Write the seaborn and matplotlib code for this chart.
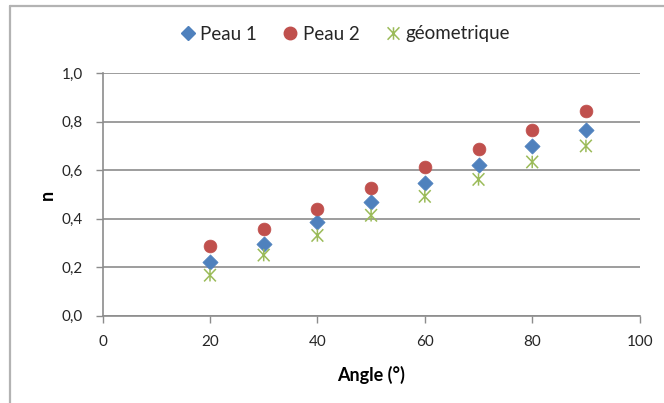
import matplotlib
matplotlib.use("Agg")
import matplotlib.pyplot as plt
from matplotlib.lines import Line2D
from matplotlib.path import Path
import seaborn as sns
import pandas as pd

angles = [20, 30, 40, 50, 60, 70, 80, 90]
peau1 = [0.220, 0.297, 0.385, 0.469, 0.546, 0.623, 0.700, 0.766]
peau2 = [0.287, 0.359, 0.441, 0.528, 0.612, 0.689, 0.766, 0.844]
geometrique = [0.167, 0.250, 0.331, 0.414, 0.492, 0.562, 0.634, 0.700]

series_names = ["Peau 1", "Peau 2", "géometrique"]
x_ticks = [0, 20, 40, 60, 80, 100]
y_ticks = [0.0, 0.2, 0.4, 0.6, 0.8, 1.0]

sns.set_theme(style="white")
plt.rcParams["font.family"] = ["Lato", "DejaVu Sans"]

fig = plt.figure(figsize=(6.64, 4.03), dpi=100)
ax = fig.add_axes([0.1545, 0.2166, 0.9633 - 0.1545, 0.8184 - 0.2166])

df = pd.DataFrame({"angle": angles, "Peau 1": peau1, "Peau 2": peau2,
                   "géometrique": geometrique})

# star marker: an X crossed by a vertical stroke
star = Path([(0, -1), (0, 1), (-0.95, -1), (0.95, 1), (-0.95, 1), (0.95, -1)],
            [Path.MOVETO, Path.LINETO] * 3)

sns.scatterplot(data=df, x="angle", y="Peau 1", ax=ax, marker="D", s=60,
                color="#4F81BD", edgecolor="#4F81BD", linewidth=0.5, zorder=3)
sns.scatterplot(data=df, x="angle", y="Peau 2", ax=ax, marker="o", s=85,
                color="#C0504D", edgecolor="#C0504D", linewidth=0.5, zorder=3)
sns.scatterplot(data=df, x="angle", y="géometrique", ax=ax, marker=star, s=80,
                facecolor="none", edgecolor="#9BBB59", linewidth=1.1, zorder=3)

ax.set_xlim(0, 100)
ax.set_ylim(0, 1.0)
ax.set_xticks(x_ticks)
ax.set_yticks(y_ticks)
ax.set_xticklabels([str(t) for t in x_ticks])
ax.set_yticklabels([f"{t:.1f}".replace(".", ",") for t in y_ticks])

grid_col = "#8C8C8C"
ax.yaxis.grid(True, color=grid_col, linewidth=1.2)
ax.xaxis.grid(False)
for side in ["top", "right"]:
    ax.spines[side].set_visible(False)
for side in ["left", "bottom"]:
    ax.spines[side].set_color(grid_col)
    ax.spines[side].set_linewidth(1.2)
ax.tick_params(axis="both", direction="out", length=5, width=1.0, color=grid_col,
               labelsize=11, labelcolor="#262626")
ax.tick_params(axis="y", pad=9)
ax.tick_params(axis="x", pad=9)
ax.tick_params(left=True, bottom=True)

ax.set_xlabel("Angle (°)", fontsize=13, fontweight="bold", color="black", labelpad=12)
ax.set_ylabel("n", fontsize=13, fontweight="bold", color="black", labelpad=4)

handles = [
    Line2D([], [], linestyle="none", marker="D", markersize=7.5, color="#4F81BD"),
    Line2D([], [], linestyle="none", marker="o", markersize=9, color="#C0504D"),
    Line2D([], [], linestyle="none", marker=star, markersize=9,
           markerfacecolor="none", markeredgecolor="#9BBB59", markeredgewidth=1.1),
]
fig.legend(handles, series_names, loc="center", bbox_to_anchor=(0.518, 1 - 34 / 403),
           ncol=3, frameon=False, fontsize=13.5, handletextpad=0.15,
           columnspacing=1.3, handlelength=1.0)

# chart-area border (left and top edges visible)
fig.add_artist(Line2D([10 / 664, 10 / 664], [0, 1 - 6 / 403], transform=fig.transFigure,
                      color="#B3B3B3", linewidth=1.6))
fig.add_artist(Line2D([10 / 664, 1], [1 - 6 / 403, 1 - 6 / 403], transform=fig.transFigure,
                      color="#B3B3B3", linewidth=1.6))

fig.savefig("out.png", dpi=100)
